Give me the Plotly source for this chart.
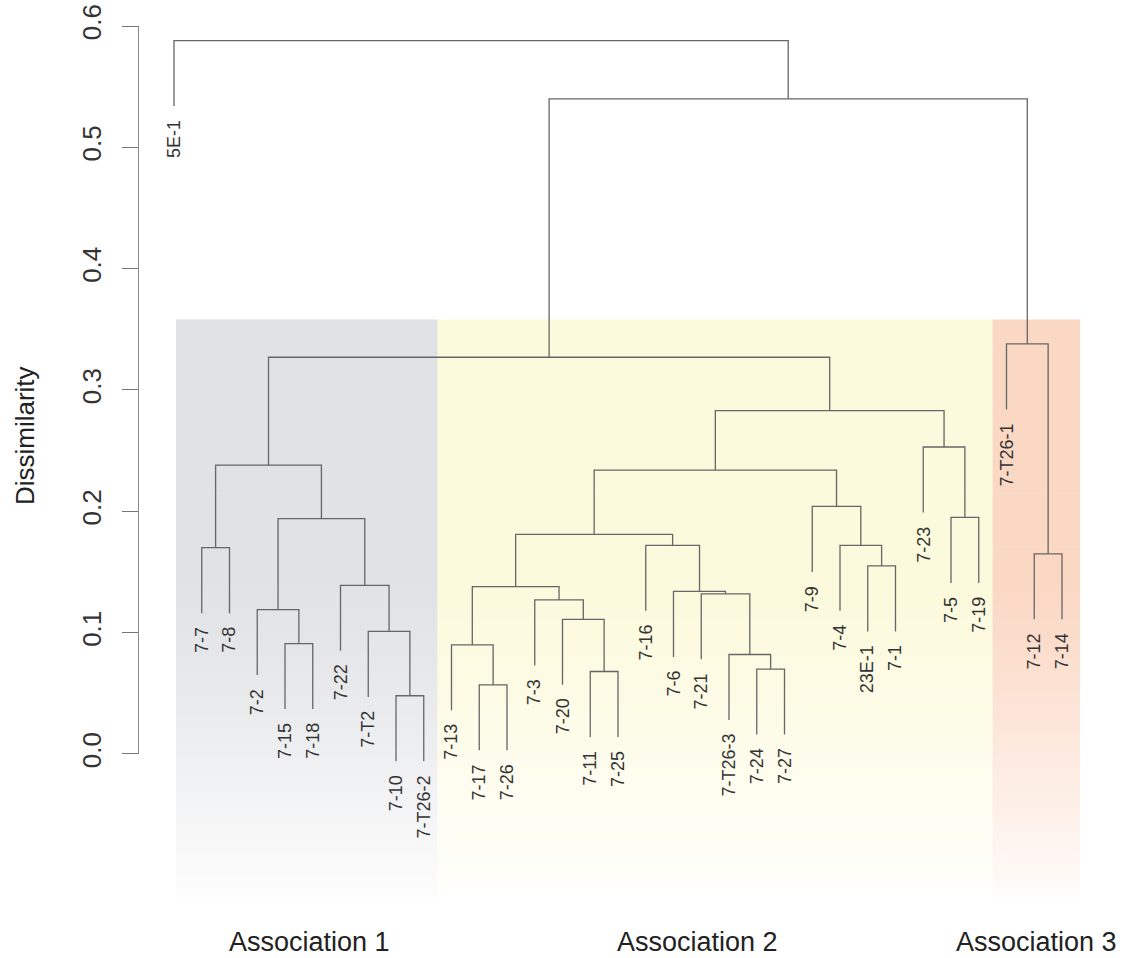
import plotly.graph_objects as go

# ---- data -------------------------------------------------------------
leaves = ["5E-1", "7-7", "7-8", "7-2", "7-15", "7-18", "7-22", "7-T2", "7-10",
          "7-T26-2", "7-13", "7-17", "7-26", "7-3", "7-20", "7-11", "7-25",
          "7-16", "7-6", "7-21", "7-T26-3", "7-24", "7-27", "7-9", "7-4",
          "23E-1", "7-1", "7-23", "7-5", "7-19", "7-T26-1", "7-12", "7-14"]

# agglomeration steps: strings are leaves, ints refer to earlier steps
merges = [("7-10", "7-T26-2"), ("7-17", "7-26"), ("7-11", "7-25"),
          ("7-24", "7-27"), ("7-T26-3", 3), ("7-13", 1), ("7-15", "7-18"),
          ("7-T2", 0), ("7-20", 2), ("7-2", 6), ("7-3", 8), ("7-21", 4),
          ("7-6", 11), (5, 10), ("7-22", 7), ("23E-1", "7-1"),
          ("7-12", "7-14"), ("7-7", "7-8"), ("7-16", 12), ("7-4", 15),
          (13, 18), (9, 14), ("7-5", "7-19"), ("7-9", 19), (20, 23),
          (17, 21), ("7-23", 22), (24, 26), (25, 27), ("7-T26-1", 16),
          (28, 29), ("5E-1", 30)]
heights = [0.048, 0.057, 0.068, 0.070, 0.082, 0.090, 0.091, 0.101, 0.111,
           0.119, 0.127, 0.132, 0.134, 0.138, 0.139, 0.155, 0.165, 0.170,
           0.172, 0.172, 0.181, 0.194, 0.195, 0.204, 0.234, 0.238, 0.253,
           0.283, 0.327, 0.338, 0.540, 0.588]

groups = ["Association 1", "Association 2", "Association 3"]
group_span = [("7-7", "7-T26-2"), ("7-13", "7-19"), ("7-T26-1", "7-14")]
group_colors = ["#e1e2e5", "#fcfadc", "#fbd8c4"]

y_ticks = [0.0, 0.1, 0.2, 0.3, 0.4, 0.5, 0.6]
y_ticktext = ["0.0", "0.1", "0.2", "0.3", "0.4", "0.5", "0.6"]

# ---- layout geometry ---------------------------------------------------
W, H = 1125, 958
M_L, M_R, M_T, M_B = 139, 15, 26, 60
PX_PER_LEAF = 27.75
X0 = 1 - (174 - M_L) / PX_PER_LEAF
X1 = X0 + (W - M_L - M_R) / PX_PER_LEAF
PX_PER_UNIT = 1213.3
Y_TOP = 0.6
Y_BOT = Y_TOP - (H - M_T - M_B) / PX_PER_UNIT
SHADE_TOP = 0.358

FONT = "Liberation Sans, Arial, Helvetica, sans-serif"
LINE_COL = "#666666"
TEXT_COL = "#333333"

# ---- dendrogram geometry ----------------------------------------------
leaf_pos = {name: i + 1 for i, name in enumerate(leaves)}
hang = 0.1 * (max(heights) - min(heights))
node_x = []
leaf_end = {}
xs, ys = [], []


def child_info(c, h):
    if isinstance(c, str):
        leaf_end[c] = h - hang
        return leaf_pos[c], h - hang
    return node_x[c], heights[c]


for (a, b), h in zip(merges, heights):
    xa, ya = child_info(a, h)
    xb, yb = child_info(b, h)
    xs += [xa, xa, xb, xb, None]
    ys += [ya, h, h, yb, None]
    node_x.append((xa + xb) / 2)

fig = go.Figure()


# shaded association bands (vertical fade towards the bottom)
def hex_to_rgb(c):
    c = c.lstrip("#")
    return tuple(int(c[i:i + 2], 16) for i in (0, 2, 4))


edges = []
for k, (first, last) in enumerate(group_span):
    left = leaf_pos[first] - (0.93 if k == 0 else 0.5)
    right = leaf_pos[last] + (0.65 if k == len(group_span) - 1 else 0.5)
    edges.append((left, right))

shapes = []
N = 120
for (left, right), col in zip(edges, group_colors):
    r, g, b = hex_to_rgb(col)
    for i in range(N):
        t = (i + 0.5) / N
        if t < 0.45:
            a = 1.0
        else:
            a = 1 - 0.93 * ((t - 0.45) / 0.55) ** 1.2
        rr = round(255 - (255 - r) * a)
        gg = round(255 - (255 - g) * a)
        bb = round(255 - (255 - b) * a)
        y_hi = SHADE_TOP - (SHADE_TOP - Y_BOT) * i / N
        y_lo = SHADE_TOP - (SHADE_TOP - Y_BOT) * (i + 1.15) / N
        shapes.append(dict(type="rect", xref="x", yref="y", x0=left, x1=right,
                           y0=max(y_lo, Y_BOT), y1=y_hi, layer="below",
                           line=dict(width=0),
                           fillcolor=f"rgb({rr},{gg},{bb})"))

fig.add_trace(go.Scatter(x=xs, y=ys, mode="lines",
                         line=dict(color=LINE_COL, width=1.3),
                         hoverinfo="skip", showlegend=False))

# axis carrier for the dissimilarity scale
fig.add_trace(go.Scatter(x=[None], y=[None], yaxis="y2", mode="markers",
                         hoverinfo="skip", showlegend=False))

annotations = []
for name in leaves:
    annotations.append(dict(x=leaf_pos[name], y=leaf_end[name], xref="x", yref="y",
                            text=name, textangle=-90, showarrow=False,
                            xanchor="center", yanchor="top", yshift=-12,
                            font=dict(family=FONT, size=18, color=TEXT_COL)))

label_shift = [3, -18, 0]
for gname, (left, right), dx in zip(groups, edges, label_shift):
    annotations.append(dict(x=(left + right) / 2, y=0, xref="x", yref="paper",
                            text=gname, showarrow=False, xanchor="center",
                            yanchor="middle", yshift=-44, xshift=dx,
                            font=dict(family=FONT, size=27, color="#222222")))

annotations.append(dict(x=0, y=0.262, xref="paper", yref="y", xshift=-114,
                        text="Dissimilarity", textangle=-90, showarrow=False,
                        xanchor="center", yanchor="middle",
                        font=dict(family=FONT, size=26, color="#222222")))

dom_lo = 1 - (Y_TOP - 0.0) / (Y_TOP - Y_BOT)

fig.update_layout(
    width=W, height=H,
    margin=dict(l=M_L, r=M_R, t=M_T, b=M_B, autoexpand=False),
    paper_bgcolor="white", plot_bgcolor="rgba(0,0,0,0)",
    shapes=shapes, annotations=annotations,
    xaxis=dict(range=[X0, X1], visible=False, fixedrange=True),
    yaxis=dict(range=[Y_BOT, Y_TOP], visible=False, domain=[0, 1]),
    yaxis2=dict(range=[0, 0.6], domain=[dom_lo, 1], anchor="x",
                tickvals=y_ticks, ticktext=y_ticktext, tickangle=-90,
                ticks="outside", ticklen=16, tickwidth=1.3, tickcolor="#777777",
                ticklabelstandoff=10, automargin=False,
                showline=True, linecolor="#888888", linewidth=1.3,
                showgrid=False, zeroline=False,
                tickfont=dict(family=FONT, size=26, color=TEXT_COL)),
)

fig.write_html("out.html")
